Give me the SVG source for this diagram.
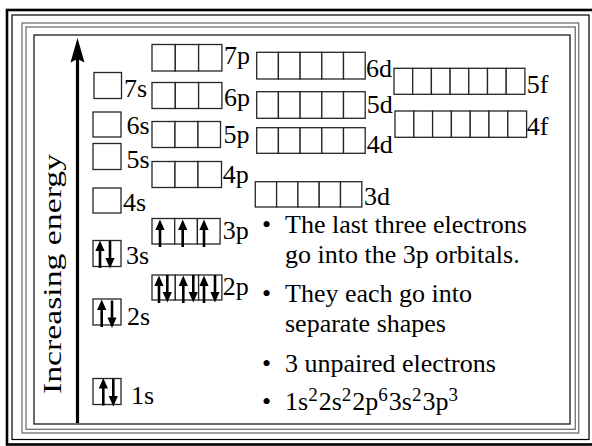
<svg xmlns="http://www.w3.org/2000/svg" xmlns:xlink="http://www.w3.org/1999/xlink" width="592" height="446" viewBox="0 0 592 446">
  <style>
    .lbl { font-family: "Liberation Serif", "Times New Roman", serif; font-size: 26px; fill: #000; }
    .sup { font-size: 19px; }
    .orb { fill: #fff; stroke: #262626; stroke-width: 1.3; }
    .e { stroke: #000; stroke-width: 2.6; fill: none; }
    .eh { fill: #000; stroke: none; }
  </style>
  <defs>
    <!-- electron spin arrows, origin at the arrow tip -->
    <g id="up">
      <line class="e" x1="0" y1="8" x2="0" y2="27"/>
      <polygon class="eh" points="0,-0.5 -4.6,10 4.6,10"/>
    </g>
    <g id="down">
      <line class="e" x1="0" y1="-8" x2="0" y2="-27"/>
      <polygon class="eh" points="0,0.5 -4.6,-10 4.6,-10"/>
    </g>
  </defs>

  <rect width="592" height="446" fill="#fff"/>

  <!-- border -->
  <g id="border">
    <rect x="7" y="10" width="587" height="434.5" stroke="#000" stroke-width="2.6" fill="none"/>
    <rect x="12" y="15" width="577" height="424.5" stroke="#000" stroke-width="1.2" fill="none"/>
    <rect x="22" y="23" width="556.7" height="410" stroke="#7a7a7a" stroke-width="1.4" fill="none"/>
    <rect x="26" y="27" width="549.3" height="402.3" stroke="#7a7a7a" stroke-width="1.4" fill="none"/>
    <rect x="34" y="35" width="536" height="389" stroke="#1a1a1a" stroke-width="1.3" fill="none"/>
  </g>

  <!-- energy axis -->
  <g id="energy-axis">
    <line x1="77.5" y1="58" x2="77.5" y2="423" stroke="#000" stroke-width="3.2"/>
    <path d="M77.5,38 L84.5,62.5 L77.5,59 L70.5,62.5 Z" fill="#000"/>
    <text class="lbl" transform="translate(60.5,394) rotate(-90)" textLength="240" lengthAdjust="spacingAndGlyphs">Increasing energy</text>
  </g>

  <!-- s orbitals -->
  <g id="s7"><rect class="orb" x="94" y="72.5" width="27.5" height="26"/><text class="lbl" x="124" y="97">7s</text></g>
  <g id="s6"><rect class="orb" x="93" y="112" width="28" height="25"/><text class="lbl" x="126.5" y="134">6s</text></g>
  <g id="s5"><rect class="orb" x="93" y="143.5" width="28" height="26"/><text class="lbl" x="126.5" y="168">5s</text></g>
  <g id="s4"><rect class="orb" x="93" y="188" width="28" height="25"/><text class="lbl" x="123" y="211">4s</text></g>
  <g id="s3"><rect class="orb" x="93" y="240.5" width="28" height="26"/><use xlink:href="#up" x="100" y="241"/><use xlink:href="#down" x="110" y="268"/><text class="lbl" x="126" y="264">3s</text></g>
  <g id="s2"><rect class="orb" x="93" y="299" width="28" height="26"/><use xlink:href="#up" x="101.7" y="300"/><use xlink:href="#down" x="112" y="327.5"/><text class="lbl" x="127" y="325">2s</text></g>
  <g id="s1"><rect class="orb" x="93" y="378.5" width="28" height="26"/><use xlink:href="#up" x="103.3" y="378.5"/><use xlink:href="#down" x="113.3" y="406"/><text class="lbl" x="131" y="404">1s</text></g>

  <!-- p orbitals -->
  <g id="p7">
    <rect class="orb" x="152" y="44.5" width="23.3" height="26.5"/><rect class="orb" x="175.3" y="44.5" width="23.3" height="26.5"/><rect class="orb" x="198.6" y="44.5" width="23.3" height="26.5"/>
    <text class="lbl" x="224" y="64">7p</text>
  </g>
  <g id="p6">
    <rect class="orb" x="152" y="82.5" width="23.3" height="26"/><rect class="orb" x="175.3" y="82.5" width="23.3" height="26"/><rect class="orb" x="198.6" y="82.5" width="23.3" height="26"/>
    <text class="lbl" x="224" y="106">6p</text>
  </g>
  <g id="p5">
    <rect class="orb" x="152" y="121.5" width="23" height="26"/><rect class="orb" x="175" y="121.5" width="23" height="26"/><rect class="orb" x="198" y="121.5" width="22.5" height="26"/>
    <text class="lbl" x="223.5" y="143">5p</text>
  </g>
  <g id="p4">
    <rect class="orb" x="152" y="161.5" width="23" height="26"/><rect class="orb" x="175" y="161.5" width="23" height="26"/><rect class="orb" x="198" y="161.5" width="23.5" height="26"/>
    <text class="lbl" x="222.7" y="183">4p</text>
  </g>
  <g id="p3">
    <rect class="orb" x="152" y="218.5" width="22.7" height="25.5"/><rect class="orb" x="174.7" y="218.5" width="22.7" height="25.5"/><rect class="orb" x="197.4" y="218.5" width="22.7" height="25.5"/>
    <use xlink:href="#up" x="160" y="220"/><use xlink:href="#up" x="182.7" y="220"/><use xlink:href="#up" x="204" y="220"/>
    <text class="lbl" x="222.7" y="238.5">3p</text>
  </g>
  <g id="p2">
    <rect class="orb" x="152" y="275" width="23.3" height="25"/><rect class="orb" x="175.3" y="275" width="23.3" height="25"/><rect class="orb" x="198.6" y="275" width="23.3" height="25"/>
    <use xlink:href="#up" x="159" y="276"/><use xlink:href="#down" x="167.3" y="302"/>
    <use xlink:href="#up" x="183.3" y="276"/><use xlink:href="#down" x="193.3" y="302"/>
    <use xlink:href="#up" x="204" y="276"/><use xlink:href="#down" x="215" y="302"/>
    <text class="lbl" x="222.7" y="295">2p</text>
  </g>

  <!-- d orbitals -->
  <g id="d6">
    <rect class="orb" x="256.7" y="52.3" width="21.7" height="26.7"/><rect class="orb" x="278.4" y="52.3" width="21.7" height="26.7"/><rect class="orb" x="300.1" y="52.3" width="21.7" height="26.7"/><rect class="orb" x="321.8" y="52.3" width="21.7" height="26.7"/><rect class="orb" x="343.5" y="52.3" width="21.7" height="26.7"/>
    <text class="lbl" x="366" y="77">6d</text>
  </g>
  <g id="d5">
    <rect class="orb" x="256.7" y="91.7" width="21.7" height="26.6"/><rect class="orb" x="278.4" y="91.7" width="21.7" height="26.6"/><rect class="orb" x="300.1" y="91.7" width="21.7" height="26.6"/><rect class="orb" x="321.8" y="91.7" width="21.7" height="26.6"/><rect class="orb" x="343.5" y="91.7" width="21.7" height="26.6"/>
    <text class="lbl" x="366.7" y="113">5d</text>
  </g>
  <g id="d4">
    <rect class="orb" x="256.7" y="127.7" width="21.7" height="25.6"/><rect class="orb" x="278.4" y="127.7" width="21.7" height="25.6"/><rect class="orb" x="300.1" y="127.7" width="21.7" height="25.6"/><rect class="orb" x="321.8" y="127.7" width="21.7" height="25.6"/><rect class="orb" x="343.5" y="127.7" width="21.7" height="25.6"/>
    <text class="lbl" x="366.7" y="153">4d</text>
  </g>
  <g id="d3">
    <rect class="orb" x="255.3" y="181.7" width="21.3" height="25.3"/><rect class="orb" x="276.6" y="181.7" width="21.3" height="25.3"/><rect class="orb" x="297.9" y="181.7" width="21.3" height="25.3"/><rect class="orb" x="319.2" y="181.7" width="21.3" height="25.3"/><rect class="orb" x="340.5" y="181.7" width="21.3" height="25.3"/>
    <text class="lbl" x="364" y="205">3d</text>
  </g>

  <!-- f orbitals -->
  <g id="f5">
    <rect class="orb" x="394" y="68.3" width="18.7" height="26"/><rect class="orb" x="412.7" y="68.3" width="18.7" height="26"/><rect class="orb" x="431.4" y="68.3" width="18.7" height="26"/><rect class="orb" x="450.1" y="68.3" width="18.7" height="26"/><rect class="orb" x="468.8" y="68.3" width="18.7" height="26"/><rect class="orb" x="487.5" y="68.3" width="18.7" height="26"/><rect class="orb" x="506.2" y="68.3" width="18.7" height="26"/>
    <text class="lbl" x="526.7" y="93">5f</text>
  </g>
  <g id="f4">
    <rect class="orb" x="395" y="111" width="18.8" height="26.3"/><rect class="orb" x="413.8" y="111" width="18.8" height="26.3"/><rect class="orb" x="432.6" y="111" width="18.8" height="26.3"/><rect class="orb" x="451.4" y="111" width="18.8" height="26.3"/><rect class="orb" x="470.2" y="111" width="18.8" height="26.3"/><rect class="orb" x="489" y="111" width="18.8" height="26.3"/><rect class="orb" x="507.8" y="111" width="18.8" height="26.3"/>
    <text class="lbl" x="526.7" y="135">4f</text>
  </g>

  <!-- notes -->
  <g id="notes" class="lbl">
    <text x="262" y="233">•</text>
    <text x="285" y="233">The last three electrons</text>
    <text x="285" y="263">go into the 3p orbitals.</text>
    <text x="262" y="302">•</text>
    <text x="285" y="302">They each go into</text>
    <text x="285" y="332">separate shapes</text>
    <text x="262" y="372">•</text>
    <text x="285" y="372">3 unpaired electrons</text>
    <text x="262" y="410">•</text>
    <text x="285" y="410">1s<tspan class="sup" dy="-9">2</tspan><tspan dy="9" dx="1">2s</tspan><tspan class="sup" dy="-9">2</tspan><tspan dy="9" dx="1">2p</tspan><tspan class="sup" dy="-9">6</tspan><tspan dy="9" dx="1">3s</tspan><tspan class="sup" dy="-9">2</tspan><tspan dy="9" dx="1">3p</tspan><tspan class="sup" dy="-9">3</tspan></text>
  </g>
</svg>
